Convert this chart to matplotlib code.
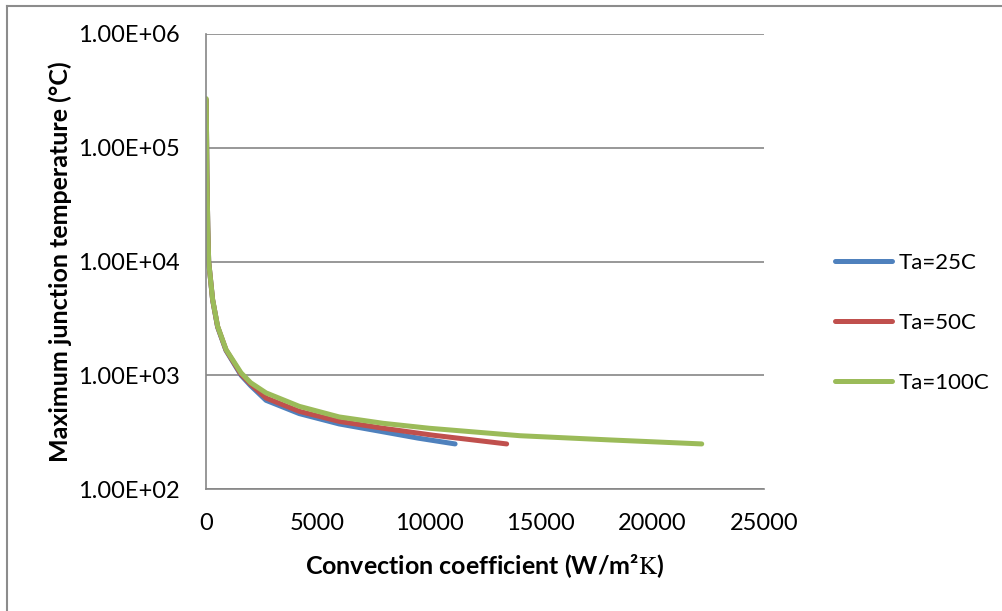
import matplotlib.pyplot as plt
from matplotlib.ticker import FuncFormatter, FixedLocator
from matplotlib.lines import Line2D

plt.rcParams['font.family'] = ['Lato', 'DejaVu Sans']
plt.rcParams['mathtext.fontset'] = 'stix'

# Convection coefficient (W/m2K) and max junction temperature (C)
h_25 = [10, 40, 80, 120, 296, 520, 896, 1570, 2000, 2690, 4180, 5970, 7940, 9500, 11160]
T_25 = [2.6e5, 6.0e4, 2.0e4, 1.0e4, 4600, 2650, 1650, 1000, 810, 602, 460, 373, 318, 280, 249]

h_50 = [10, 40, 80, 120, 296, 520, 896, 1570, 2000, 2690, 4180, 5970, 7940, 10180, 13470]
T_50 = [2.65e5, 6.0e4, 2.0e4, 1.0e4, 4620, 2680, 1670, 1020, 835, 631, 482, 393, 342, 297, 249]

h_100 = [10, 40, 80, 120, 296, 520, 896, 1570, 2000, 2690, 4180, 5970, 7940, 10000, 14070, 18100, 22210]
T_100 = [2.7e5, 6.0e4, 2.0e4, 1.0e4, 4650, 2700, 1685, 1050, 860, 700, 533, 430, 378, 342, 294, 270, 249]

labels = ["Ta=25C", "Ta=50C", "Ta=100C"]
colors = ["#4F81BD", "#C0504D", "#9BBB59"]

fig = plt.figure(figsize=(10.03, 6.11), dpi=100)
ax = fig.add_axes([206 / 1003, 1 - 489 / 611, 558 / 1003, 455 / 611])

for hx, ty, lab, c in zip([h_25, h_50, h_100], [T_25, T_50, T_100], labels, colors):
    ax.plot(hx, ty, color=c, lw=3.6, label=lab, solid_capstyle='round', solid_joinstyle='round')

ax.set_yscale('log')
ax.set_ylim(1e2, 1e6)
ax.set_xlim(0, 25000)
ax.set_xticks([0, 5000, 10000, 15000, 20000, 25000])
ax.yaxis.set_major_locator(FixedLocator([1e2, 1e3, 1e4, 1e5, 1e6]))
ax.yaxis.set_minor_locator(FixedLocator([]))
ax.yaxis.set_major_formatter(FuncFormatter(lambda v, p: f"{v:.2E}"))

ax.grid(True, axis='y', color='#868686', lw=1.2)
ax.set_axisbelow(True)
for s in ['top', 'right']:
    ax.spines[s].set_visible(False)
for s in ['left', 'bottom']:
    ax.spines[s].set_color('#868686')
    ax.spines[s].set_linewidth(1.2)

ax.tick_params(axis='y', length=0, pad=19, labelsize=17)
ax.tick_params(axis='x', length=0, pad=17, labelsize=17)

ax.set_xlabel(r"Convection coefficient (W/m²$\mathrm{K}$)", fontsize=18, fontweight='bold', labelpad=13)
ax.set_ylabel("Maximum junction temperature (°C)", fontsize=18, fontweight='bold', labelpad=4)

fig.legend(loc='center left', bbox_to_anchor=(0.833, 0.471), frameon=False,
           fontsize=16, labelspacing=1.8, handlelength=2.55, handletextpad=0.3,
           borderpad=0, borderaxespad=0)

# thin frame around the chart area
fig.add_artist(Line2D([7 / 1003, 7 / 1003], [0, 1 - 6 / 611], color='#8c8c8c', lw=1.5))
fig.add_artist(Line2D([7 / 1003, 1], [1 - 6 / 611, 1 - 6 / 611], color='#8c8c8c', lw=1.5))

fig.savefig("out.png", dpi=100)
